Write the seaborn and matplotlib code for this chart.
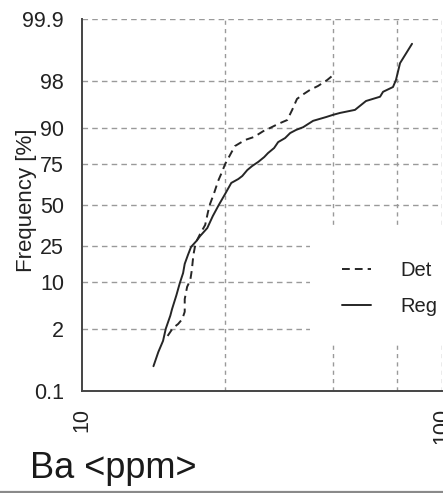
import numpy as np
import pandas as pd
import seaborn as sns
import matplotlib
matplotlib.use("Agg")
import matplotlib.pyplot as plt
from matplotlib.patches import Rectangle
from matplotlib.lines import Line2D
from statistics import NormalDist

# Cumulative frequency curves of Ba concentration
reg_ppm = [15.8, 16.3, 16.8, 17.1, 17.6, 17.8, 18.3, 18.7, 19.1, 19.3,
           19.7, 20.1, 20.8, 21.3, 22.3, 23.1, 24.0, 25.0, 26.0, 27.2,
           27.9, 28.8, 29.7, 30.9, 32.1, 32.9, 34.2, 35.1, 36.7, 37.9,
           39.4, 41.2, 43.9, 47.7, 49.9, 52.2, 57.4, 61.6, 67.4, 68.7,
           73.2, 74.6, 76.6, 82.7]
reg_freq = [0.37, 0.73, 1.2, 2.0, 3.3, 4.2, 6.7, 9.7, 12.9, 16.4,
            20.3, 24.3, 27.5, 30.3, 35.1, 42.7, 50.0, 57.3, 64.3, 66.7,
            68.5, 71.9, 74.1, 76.3, 78.7, 80.6, 82.8, 85.2, 86.7, 88.4,
            89.4, 90.2, 91.9, 92.8, 93.3, 93.7, 94.3, 95.8, 96.4, 97.0,
            97.5, 98.1, 99.08, 99.63]

det_ppm = [17.3, 17.9, 18.5, 19.0, 19.3, 19.3, 19.6, 20.0, 20.2, 20.4,
           20.6, 20.9, 21.3, 22.0, 22.4, 22.7, 23.3, 23.9, 24.5, 25.0,
           25.8, 26.6, 28.4, 30.1, 31.9, 33.3, 35.1, 37.2, 38.4, 39.6,
           41.2, 43.0, 45.3, 48.0, 50.2]
det_freq = [1.48, 2.05, 2.4, 2.9, 3.8, 5.9, 8.7, 10.6, 14.0, 20.3,
            24.3, 28.1, 31.5, 37.0, 45.4, 50.7, 57.9, 65.5, 70.8, 75.2,
            79.7, 83.6, 86.0, 87.1, 89.0, 89.95, 91.1, 92.1, 94.3, 96.1,
            96.7, 97.2, 97.6, 98.1, 98.5]

series_names = ["Det", "Reg"]
y_ticks = [0.1, 2, 10, 25, 50, 75, 90, 98, 99.9]
y_tick_labels = ["0.1", "2", "10", "25", "50", "75", "90", "98", "99.9"]
x_ticks = [10, 25, 50, 75, 100]
x_tick_labels = ["10", "", "", "", "100"]

df = pd.concat([
    pd.DataFrame({"ppm": det_ppm, "freq": det_freq, "series": "Det"}),
    pd.DataFrame({"ppm": reg_ppm, "freq": reg_freq, "series": "Reg"}),
], ignore_index=True)

# normal probability (probit) scale for percentages
_nd = NormalDist()
_inv = np.vectorize(lambda p: _nd.inv_cdf(min(max(p / 100.0, 1e-9), 1 - 1e-9)),
                    otypes=[float])
_cdf = np.vectorize(lambda z: 100.0 * _nd.cdf(z), otypes=[float])


def probit_fwd(p):
    return _inv(np.asarray(p, dtype=float))


def probit_inv(z):
    return _cdf(np.asarray(z, dtype=float))


sns.set_style("white")
font = ["Liberation Sans", "DejaVu Sans"]
plt.rcParams["font.family"] = font

W, H = 443, 493
fig = plt.figure(figsize=(W / 100, H / 100), dpi=100)
ax = fig.add_axes([82 / W, 1 - 391 / H, 359.7 / W, 372 / H])

ink = "#262626"
sns.lineplot(data=df, x="ppm", y="freq", style="series", style_order=series_names,
             dashes={"Det": (4, 2.6), "Reg": ""}, color=ink, lw=1.4,
             estimator=None, sort=False, ax=ax, zorder=3)

ax.set_xscale("log")
ax.set_yscale("function", functions=(probit_fwd, probit_inv))
ax.set_xlim(10, 100)
ax.set_ylim(0.1, 99.9)

ax.set_yticks(y_ticks)
ax.set_yticklabels(y_tick_labels)
ax.set_xticks(x_ticks)
ax.set_xticklabels(x_tick_labels, rotation=90, va="top", ha="center")
ax.xaxis.set_minor_locator(matplotlib.ticker.NullLocator())
ax.yaxis.set_minor_locator(matplotlib.ticker.NullLocator())

ax.tick_params(axis="both", direction="out", length=9, width=1.3, color="#444",
               labelsize=15.5, labelcolor="#222", pad=4)
ax.tick_params(axis="x", pad=3)

# dashed reference grid
ax.set_axisbelow(True)
ax.grid(False)
for yv in y_ticks[1:]:
    ax.axhline(yv, color="#9a9a9a", lw=1.0, ls=(0, (4, 3)), zorder=0.5)
for xv in x_ticks[1:]:
    ax.axvline(xv, color="#9a9a9a", lw=1.0, ls=(0, (3, 3)), zorder=0.5)

for side in ["top", "right"]:
    ax.spines[side].set_visible(False)
for side in ["left", "bottom"]:
    ax.spines[side].set_color("#444")
    ax.spines[side].set_linewidth(1.4)

# white backing behind the legend
ax.add_patch(Rectangle((0.634, 0.129), 0.40, 0.317, transform=ax.transAxes,
                       facecolor="white", edgecolor="none", zorder=1,
                       clip_on=False))

handles, labels = ax.get_legend_handles_labels()
pairs = [(h, l) for h, l in zip(handles, labels) if l in series_names]
leg = ax.legend([p[0] for p in pairs], [p[1] for p in pairs],
                loc="center left", bbox_to_anchor=(0.722, 0.276),
                frameon=False, handlelength=1.45, handletextpad=1.45,
                labelspacing=0.85, borderpad=0, borderaxespad=0,
                prop={"family": font, "size": 14.5})
for t in leg.get_texts():
    t.set_color("#222")

ax.set_xlabel("")
ax.set_ylabel("Frequency [%]", family=font, fontsize=16, color="#222")
ax.yaxis.label.set_va("center")
ax.yaxis.label.set_ha("center")
ax.yaxis.set_label_coords((26.5 - 82) / 359.7, (391 - 200) / 372)

fig.text(30 / W, (H - 478) / H, "Ba <ppm>", family=font, fontsize=26,
         color="#1a1a1a", va="baseline", ha="left")

fig.add_artist(Line2D([0, 1], [1.2 / H, 1.2 / H], transform=fig.transFigure,
                      color="#8a8a8a", lw=1.6))

fig.savefig("out.png", dpi=100, facecolor="white")
